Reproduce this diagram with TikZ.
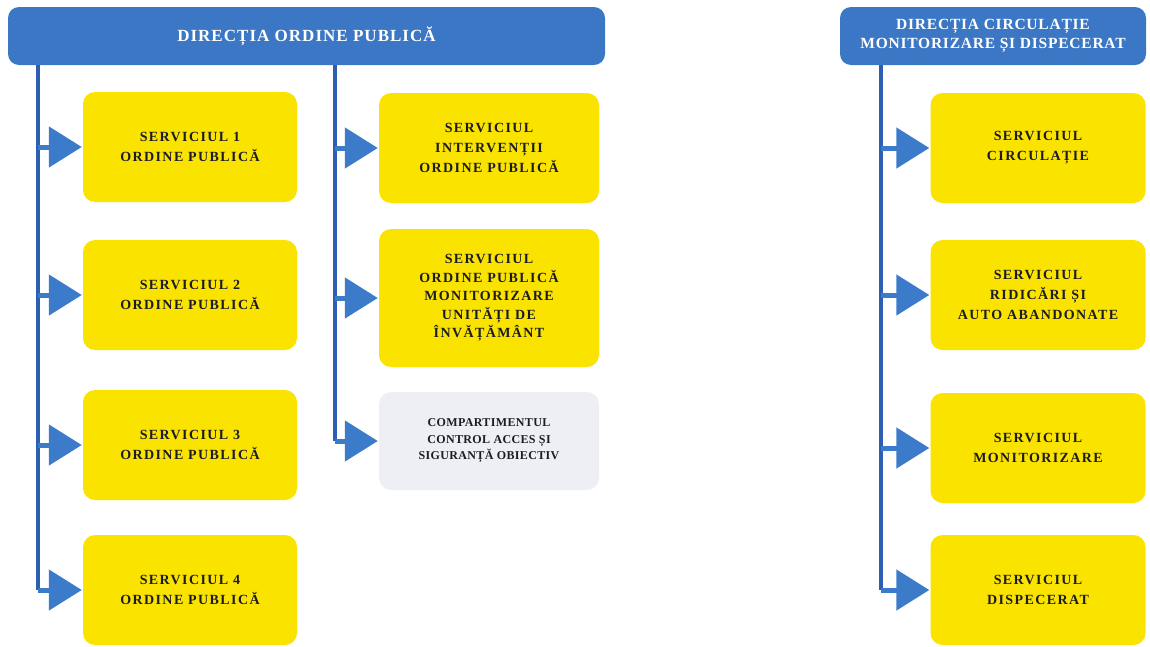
\documentclass[tikz,border=0pt]{standalone}
\usepackage{fontspec}
\setmainfont{Liberation Serif}
\newfontfamily\boxfont[LetterSpace=10]{Liberation Serif}
\newfontfamily\smallboxfont[LetterSpace=3]{Liberation Serif}
\newfontfamily\hdrfont[LetterSpace=6]{Liberation Serif}
\newfontfamily\hdrfontB[LetterSpace=5]{Liberation Serif}
\usetikzlibrary{arrows.meta}
\definecolor{hdrblue}{HTML}{3B77C4}
\definecolor{lineblue}{HTML}{2C5FB3}
\definecolor{arrblue}{HTML}{3C7BC9}
\definecolor{boxyellow}{HTML}{FBE300}
\definecolor{boxgrey}{HTML}{EEEFF5}
\definecolor{txtdark}{HTML}{1C1C28}
\tikzset{
  hdr/.style={fill=hdrblue, rounded corners=11pt, inner sep=0pt, text=white, align=center},
  ybox/.style={fill=boxyellow, rounded corners=12pt, inner sep=0pt, text=txtdark, align=center,
    minimum height=110pt, font={\boxfont\bfseries\fontsize{14}{20}\selectfont}},
  gbox/.style={fill=boxgrey, rounded corners=12pt, inner sep=0pt, text=txtdark, align=center,
    font={\smallboxfont\bfseries\fontsize{12}{16.5}\selectfont}},
  trunk/.style={draw=lineblue, line width=4pt},
  feed/.style={draw=arrblue, line width=5pt, -{Triangle[length=33pt,width=40pt]}, shorten >=1pt},
}
\begin{document}
\begin{tikzpicture}[x=1pt,y=-1pt]
\useasboundingbox (0,0) rectangle (1150,646);
% headers
\node[hdr, minimum width=597pt, minimum height=58pt, font={\hdrfont\bfseries\fontsize{17}{20}\selectfont}] (hL) at (306.5,36) {DIRECȚIA ORDINE PUBLICĂ};
\node[hdr, minimum width=306pt, minimum height=58pt, font={\hdrfontB\bfseries\fontsize{15.5}{19}\selectfont}] (hR) at (993,36) {DIRECȚIA CIRCULAȚIE\\MONITORIZARE ȘI DISPECERAT};
% left column
\node[ybox, minimum width=214pt] (s1) at (190,147) {SERVICIUL 1\\ORDINE PUBLICĂ};
\node[ybox, minimum width=214pt] (s2) at (190,295) {SERVICIUL 2\\ORDINE PUBLICĂ};
\node[ybox, minimum width=214pt] (s3) at (190,445) {SERVICIUL 3\\ORDINE PUBLICĂ};
\node[ybox, minimum width=214pt] (s4) at (190,590) {SERVICIUL 4\\ORDINE PUBLICĂ};
% middle column
\node[ybox, minimum width=220pt] (m1) at (489,148) {SERVICIUL\\INTERVENȚII\\ORDINE PUBLICĂ};
\node[ybox, minimum width=220pt, minimum height=138pt, font={\boxfont\bfseries\fontsize{14}{18.5}\selectfont}] (m2) at (489,298) {SERVICIUL\\ORDINE PUBLICĂ\\MONITORIZARE\\UNITĂȚI DE\\ÎNVĂȚĂMÂNT};
\node[gbox, minimum width=220pt, minimum height=98pt] (m3) at (489,441) {COMPARTIMENTUL\\CONTROL ACCES ȘI\\SIGURANȚĂ OBIECTIV};
% right column
\node[ybox, minimum width=215pt] (r1) at (1038,148) {SERVICIUL\\CIRCULAȚIE};
\node[ybox, minimum width=215pt] (r2) at (1038,295) {SERVICIUL\\RIDICĂRI ȘI\\AUTO ABANDONATE};
\node[ybox, minimum width=215pt] (r3) at (1038,448) {SERVICIUL\\MONITORIZARE};
\node[ybox, minimum width=215pt] (r4) at (1038,590) {SERVICIUL\\DISPECERAT};
% trunks
\coordinate (tL) at (38,65);
\coordinate (tM) at (335,65);
\coordinate (tR) at (881,65);
\draw[trunk] (tL) -- (tL |- s4.west);
\draw[trunk] (tM) -- (tM |- m3.west);
\draw[trunk] (tR) -- (tR |- r4.west);
% feeds
\foreach \b in {s1,s2,s3,s4} \draw[feed] (tL |- \b.west) -- (\b.west);
\foreach \b in {m1,m2,m3} \draw[feed] (tM |- \b.west) -- (\b.west);
\foreach \b in {r1,r2,r3,r4} \draw[feed] (tR |- \b.west) -- (\b.west);
\end{tikzpicture}
\end{document}
